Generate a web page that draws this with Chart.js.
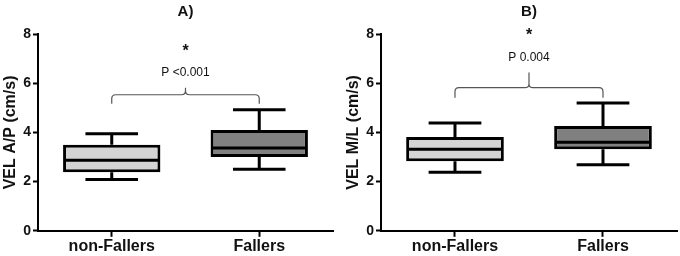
<!DOCTYPE html>
<html>
<head>
<meta charset="utf-8">
<script src="https://cdn.jsdelivr.net/npm/chart.js@4.4.0/dist/chart.umd.min.js"></script>
<style>
  html, body { margin: 0; padding: 0; background: #fff; }
  #wrap { display: flex; width: 680px; height: 256px; }
  canvas { display: block; }
</style>
</head>
<body>
<div id="wrap">
  <canvas id="chartA" width="340" height="256"></canvas>
  <canvas id="chartB" width="340" height="256"></canvas>
</div>
<script>
const groups = ['non-Fallers', 'Fallers'];
const yTicks = [0, 2, 4, 6, 8];

// A) VEL A/P
const apMin = [2.09, 2.50];
const apQ1 = [2.38, 3.00];
const apMed = [2.87, 3.37];
const apQ3 = [3.50, 4.10];
const apMax = [3.95, 4.92];

// B) VEL M/L
const mlMin = [2.38, 2.68];
const mlQ1 = [2.83, 3.32];
const mlMed = [3.32, 3.60];
const mlQ3 = [3.81, 4.26];
const mlMax = [4.38, 5.20];

// bracket: end tips, bar level, peak, p-text, star (in y units)
const apBracket = [5.16, 5.53, 5.82, 6.43, 7.42];
const mlBracket = [5.41, 5.82, 6.43, 7.05, 8.07];
const apP = 'P <0.001';
const mlP = 'P 0.004';

const boxFill = ['#d4d4d4', '#808080'];
const FONT = "'Liberation Sans', Arial, sans-serif";

const boxPlugin = {
    id: 'boxExtras',
    afterDatasetsDraw(chart, args, opts) {
        const ctx = chart.ctx;
        const x = chart.scales.x, y = chart.scales.y;
        const meta = chart.getDatasetMeta(0);
        ctx.save();
        ctx.strokeStyle = '#000';
        ctx.lineWidth = 3;
        ctx.lineCap = 'butt';
        groups.forEach((g, i) => {
            const bar = meta.data[i];
            const cx = x.getPixelForValue(i);
            const half = bar.width / 2;
            const cap = bar.width * 0.27;
            // median
            ctx.beginPath();
            ctx.moveTo(cx - half + 1, y.getPixelForValue(opts.med[i]));
            ctx.lineTo(cx + half - 1, y.getPixelForValue(opts.med[i]));
            ctx.stroke();
            // whiskers
            ctx.beginPath();
            ctx.moveTo(cx, y.getPixelForValue(opts.q3[i]));
            ctx.lineTo(cx, y.getPixelForValue(opts.max[i]));
            ctx.moveTo(cx - cap, y.getPixelForValue(opts.max[i]));
            ctx.lineTo(cx + cap, y.getPixelForValue(opts.max[i]));
            ctx.moveTo(cx, y.getPixelForValue(opts.q1[i]));
            ctx.lineTo(cx, y.getPixelForValue(opts.min[i]));
            ctx.moveTo(cx - cap, y.getPixelForValue(opts.min[i]));
            ctx.lineTo(cx + cap, y.getPixelForValue(opts.min[i]));
            ctx.stroke();
        });

        // significance bracket
        const b = opts.bracket;
        const x0 = x.getPixelForValue(0), x1 = x.getPixelForValue(1);
        const xm = (x0 + x1) / 2;
        const yEnd = y.getPixelForValue(b[0]);
        const yBar = y.getPixelForValue(b[1]);
        const yPeak = y.getPixelForValue(b[2]);
        const r = 4;
        ctx.strokeStyle = '#555';
        ctx.lineWidth = 1.2;
        ctx.beginPath();
        ctx.moveTo(x0, yEnd);
        ctx.lineTo(x0, yBar + r);
        ctx.quadraticCurveTo(x0, yBar, x0 + r, yBar);
        ctx.lineTo(xm - r, yBar);
        ctx.quadraticCurveTo(xm, yBar, xm, yBar - r);
        ctx.lineTo(xm, yPeak);
        ctx.moveTo(xm, yBar - r);
        ctx.quadraticCurveTo(xm, yBar, xm + r, yBar);
        ctx.lineTo(x1 - r, yBar);
        ctx.quadraticCurveTo(x1, yBar, x1, yBar + r);
        ctx.lineTo(x1, yEnd);
        ctx.stroke();

        ctx.fillStyle = '#111';
        ctx.textAlign = 'center';
        ctx.textBaseline = 'middle';
        ctx.font = '12px ' + FONT;
        ctx.fillText(opts.pText, xm, y.getPixelForValue(b[3]));
        ctx.font = 'bold 16px ' + FONT;
        ctx.fillText('*', xm, y.getPixelForValue(b[4]) + 3);

        // panel title centred over the plot area
        ctx.font = 'bold 15px ' + FONT;
        ctx.fillText(opts.title, (chart.chartArea.left + chart.chartArea.right) / 2, 12);
        ctx.restore();
    }
};

function makeChart(id, title, yLabel, q1, med, q3, min, max, bracket, pText, pad) {
    const ctx = document.getElementById(id).getContext('2d');
    return new Chart(ctx, {
        type: 'bar',
        data: {
            labels: groups,
            datasets: [{
                data: groups.map((g, i) => [q1[i], q3[i]]),
                backgroundColor: boxFill,
                borderColor: '#000',
                borderWidth: 3,
                borderSkipped: false,
                barPercentage: 0.66,
                categoryPercentage: 1
            }]
        },
        options: {
            responsive: false,
            animation: false,
            layout: { padding: pad },
            plugins: {
                legend: { display: false },
                tooltip: { enabled: false },
                title: { display: false },
                boxExtras: { q1: q1, med: med, q3: q3, min: min, max: max, bracket: bracket, pText: pText, title: title }
            },
            scales: {
                x: {
                    offset: true,
                    grid: {
                        offset: false,
                        drawOnChartArea: false,
                        drawTicks: true,
                        tickLength: 6,
                        tickColor: '#000',
                        tickWidth: 2
                    },
                    border: { color: '#000', width: 2 },
                    ticks: {
                        color: '#111',
                        padding: 0,
                        font: { family: FONT, size: 16, weight: 'bold' }
                    }
                },
                y: {
                    min: 0,
                    max: 8,
                    afterBuildTicks: (axis) => { axis.ticks = yTicks.map(v => ({ value: v })); },
                    grid: {
                        drawOnChartArea: false,
                        drawTicks: true,
                        tickLength: 5,
                        tickColor: '#000',
                        tickWidth: 2
                    },
                    border: { color: '#000', width: 2 },
                    ticks: {
                        color: '#111',
                        padding: 2,
                        font: { family: FONT, size: 14, weight: 'bold' }
                    },
                    title: {
                        display: true,
                        text: yLabel,
                        color: '#111',
                        padding: { top: 0, bottom: 1 },
                        font: { family: FONT, size: 16, weight: 'bold' }
                    }
                }
            }
        },
        plugins: [boxPlugin]
    });
}

makeChart('chartA', 'A)', 'VEL A/P (cm/s)', apQ1, apMed, apQ3, apMin, apMax, apBracket, apP,
    { left: 1, right: 7, top: 34, bottom: 0 });
makeChart('chartB', 'B)', 'VEL M/L (cm/s)', mlQ1, mlMed, mlQ3, mlMin, mlMax, mlBracket, mlP,
    { left: 4, right: 3, top: 34, bottom: 0 });
</script>
</body>
</html>
